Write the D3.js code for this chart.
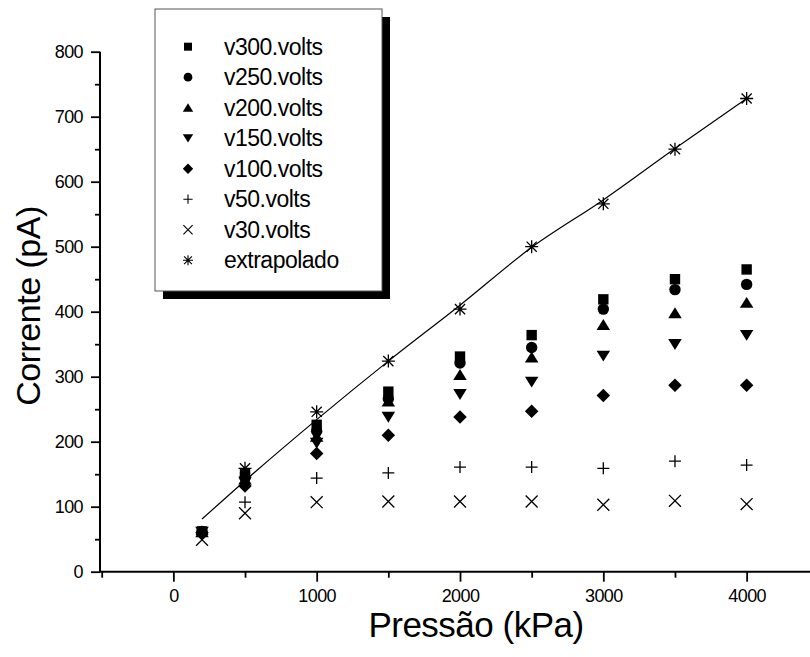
<!DOCTYPE html>
<html>
<head>
<meta charset="utf-8">
<script src="https://cdn.jsdelivr.net/npm/d3@7"></script>
<style>
  body { margin: 0; background: #fff; }
  svg { display: block; font-family: "Liberation Sans", Arial, sans-serif; }
</style>
</head>
<body>
<div id="plot"></div>
<script>
// pressure values (kPa)
const pressures = [200, 500, 1000, 1500, 2000, 2500, 3000, 3500, 4000];

// current readings (pA) per voltage
const v300 = [62, 150, 226, 277, 331, 364, 419, 450, 465];
const v250 = [62, 145, 216, 266, 321, 345, 404, 434, 442];
const v200 = [61, 142, 208, 262, 303, 330, 380, 398, 414];
const v150 = [61, 138, 198, 238, 273, 292, 332, 350, 364];
const v100 = [60, 132, 182, 210, 238, 247, 271, 287, 287];
const v50 = [59, 107, 144, 152, 161, 161, 159, 170, 164];
const v30 = [49, 90, 107, 108, 108, 108, 103, 109, 104];

// extrapolated points and the fitted curve drawn near them
const extraX = [500, 1000, 1500, 2000, 2500, 3000, 3500, 4000];
const extraY = [159, 246, 324, 404, 500, 566, 650, 728];
const fitX = [200, 500, 1000, 1500, 2000, 2500, 3000, 3500, 4000];
const fitY = [81, 140, 234, 324, 410, 499, 572, 651, 728];

const seriesNames = ['v300.volts', 'v250.volts', 'v200.volts', 'v150.volts', 'v100.volts', 'v50.volts', 'v30.volts', 'extrapolado'];
const seriesShapes = ['square', 'circle', 'up', 'down', 'diamond', 'plus', 'cross', 'star'];

const xTicks = [0, 1000, 2000, 3000, 4000];
const yTicks = [0, 100, 200, 300, 400, 500, 600, 700, 800];

const width = 810, height = 657;

const svg = d3.select('#plot').append('svg')
    .attr('width', width)
    .attr('height', height);

const xs = d3.scaleLinear().domain([-500, 4500]).range([101.7, 818.3]);
const ys = d3.scaleLinear().domain([0, 800]).range([571.7, 51.7]);

// marker path, s = rough half-size in px
function markerPath(shape, s) {
    const p = d3.path();
    if (shape === 'square') {
        return d3.symbol(d3.symbolSquare, (2 * s) * (2 * s))();
    }
    if (shape === 'circle') {
        return d3.symbol(d3.symbolCircle, Math.PI * s * s * 1.2)();
    }
    if (shape === 'up') {
        p.moveTo(0, -s * 1.1); p.lineTo(s * 1.3, s * 1.0); p.lineTo(-s * 1.3, s * 1.0); p.closePath();
        return p.toString();
    }
    if (shape === 'down') {
        p.moveTo(0, s * 1.1); p.lineTo(s * 1.3, -s * 1.0); p.lineTo(-s * 1.3, -s * 1.0); p.closePath();
        return p.toString();
    }
    if (shape === 'diamond') {
        const d = s * 1.3;
        p.moveTo(0, -d); p.lineTo(d, 0); p.lineTo(0, d); p.lineTo(-d, 0); p.closePath();
        return p.toString();
    }
    if (shape === 'plus') {
        const d = s * 1.15;
        p.moveTo(-d, 0); p.lineTo(d, 0); p.moveTo(0, -d); p.lineTo(0, d);
        return p.toString();
    }
    if (shape === 'cross') {
        const d = s * 1.15;
        p.moveTo(-d, -d); p.lineTo(d, d); p.moveTo(d, -d); p.lineTo(-d, d);
        return p.toString();
    }
    // star: vertical, horizontal and both diagonals
    const d = s * 1.25, e = d * 0.78;
    p.moveTo(0, -d); p.lineTo(0, d);
    p.moveTo(-d, 0); p.lineTo(d, 0);
    p.moveTo(-e, -e); p.lineTo(e, e);
    p.moveTo(e, -e); p.lineTo(-e, e);
    return p.toString();
}
const isLine = shape => shape === 'plus' || shape === 'cross' || shape === 'star';

// axes
const yAxis = svg.append('g')
    .attr('transform', 'translate(100,0)')
    .call(d3.axisLeft(ys).tickValues(yTicks).tickSize(9).tickPadding(8).tickFormat(d3.format('d')));
svg.append('g')
    .attr('transform', 'translate(100,0)')
    .call(d3.axisLeft(ys).tickValues(d3.range(50, 800, 100)).tickSize(5).tickFormat(''))
    .call(g => g.select('.domain').remove());

const xAxis = svg.append('g')
    .attr('transform', 'translate(0,571.7)')
    .call(d3.axisBottom(xs).tickValues(xTicks).tickSize(10).tickPadding(8).tickFormat(d3.format('d')));
svg.append('g')
    .attr('transform', 'translate(0,571.7)')
    .call(d3.axisBottom(xs).tickValues([-500, 500, 1500, 2500, 3500]).tickSize(6).tickFormat(''))
    .call(g => g.select('.domain').remove());

svg.selectAll('.domain').attr('stroke', '#000').attr('stroke-width', 2);
svg.selectAll('.tick line').attr('stroke', '#000').attr('stroke-width', 1.8);
svg.selectAll('.tick text')
    .style('font-family', '"Liberation Sans", Arial, sans-serif')
    .style('font-size', '18px')
    .style('letter-spacing', '-0.6px')
    .attr('fill', '#000');
xAxis.selectAll('.domain').attr('d', 'M100,0H810');
yAxis.selectAll('.domain').attr('d', 'M0,51.7V571.7');

// axis titles
svg.append('text')
    .attr('x', 476).attr('y', 637)
    .attr('text-anchor', 'middle')
    .style('font-size', '35px')
    .style('letter-spacing', '-0.5px')
    .text('Pressão (kPa)');
svg.append('text')
    .attr('transform', 'translate(40,306) rotate(-90)')
    .attr('text-anchor', 'middle')
    .style('font-size', '34px')
    .style('letter-spacing', '-0.5px')
    .text('Corrente (pA)');

// fitted line
const line = d3.line().x(d => xs(d[0])).y(d => ys(d[1])).curve(d3.curveMonotoneX);
svg.append('path')
    .datum(d3.zip(fitX, fitY))
    .attr('d', line)
    .attr('fill', 'none')
    .attr('stroke', '#000')
    .attr('stroke-width', 1.2);

// data points
const allSeries = [v300, v250, v200, v150, v100, v50, v30];
const chart = svg.append('g');
allSeries.forEach((vals, i) => {
    const shape = seriesShapes[i];
    chart.selectAll('.s' + i)
        .data(d3.zip(pressures, vals))
        .enter()
        .append('path')
        .attr('class', 's' + i)
        .attr('transform', d => 'translate(' + xs(d[0]) + ',' + ys(d[1]) + ')')
        .attr('d', markerPath(shape, 5.2))
        .attr('fill', isLine(shape) ? 'none' : '#000')
        .attr('stroke', '#000')
        .attr('stroke-width', isLine(shape) ? 1.3 : 0);
});
chart.selectAll('.sx')
    .data(d3.zip(extraX, extraY))
    .enter()
    .append('path')
    .attr('class', 'sx')
    .attr('transform', d => 'translate(' + xs(d[0]) + ',' + ys(d[1]) + ')')
    .attr('d', markerPath('star', 5.2))
    .attr('fill', 'none')
    .attr('stroke', '#000')
    .attr('stroke-width', 1.3);

// legend box with drop shadow
const lg = svg.append('g');
lg.append('rect')
    .attr('x', 163).attr('y', 17).attr('width', 227).attr('height', 282)
    .attr('fill', '#000');
lg.append('rect')
    .attr('x', 155).attr('y', 9).attr('width', 227).attr('height', 282)
    .attr('fill', '#fff').attr('stroke', '#555').attr('stroke-width', 1);

const legendItems = lg.selectAll('.legend')
    .data(seriesNames)
    .enter()
    .append('g')
    .attr('class', 'legend')
    .attr('transform', (d, i) => 'translate(188,' + (46.7 + i * 30.5) + ')');
legendItems.append('path')
    .attr('d', (d, i) => markerPath(seriesShapes[i], 4))
    .attr('fill', (d, i) => isLine(seriesShapes[i]) ? 'none' : '#000')
    .attr('stroke', '#000')
    .attr('stroke-width', (d, i) => isLine(seriesShapes[i]) ? 1.1 : 0);
legendItems.append('text')
    .attr('x', 36)
    .attr('y', 8)
    .style('font-size', '23px')
    .style('letter-spacing', '-0.5px')
    .text(d => d);
</script>
</body>
</html>
